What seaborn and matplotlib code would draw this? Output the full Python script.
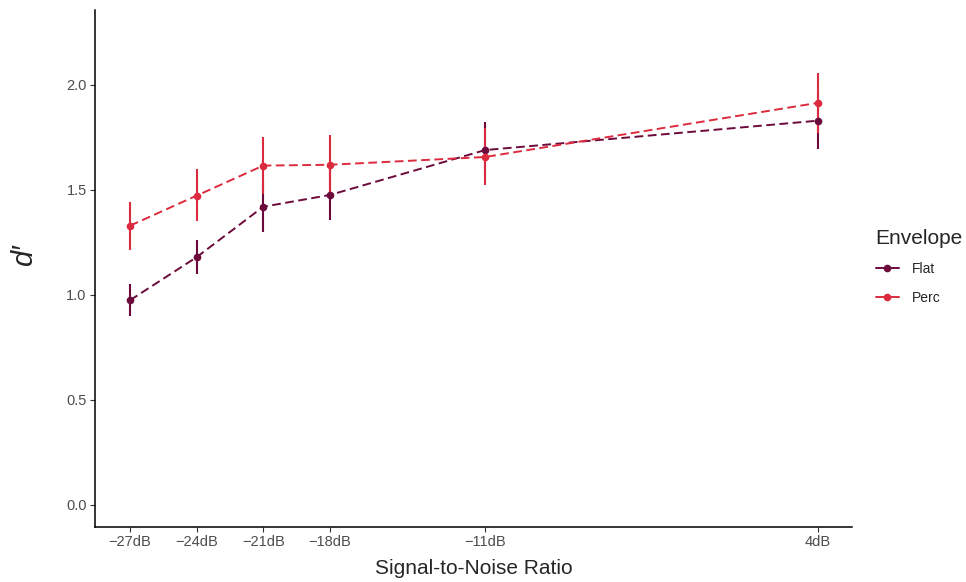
import numpy as np
import pandas as pd
import matplotlib
matplotlib.use("Agg")
import matplotlib.pyplot as plt
import seaborn as sns

snr = [-27, -24, -21, -18, -11, 4]
tick_labels = ["\u221227dB", "\u221224dB", "\u221221dB", "\u221218dB", "\u221211dB", "4dB"]
flat_mean = [0.975, 1.18, 1.42, 1.476, 1.69, 1.83]
flat_lo = [0.90, 1.10, 1.30, 1.357, 1.56, 1.695]
flat_hi = [1.05, 1.26, 1.54, 1.60, 1.826, 1.96]
perc_mean = [1.33, 1.473, 1.616, 1.62, 1.657, 1.915]
perc_lo = [1.215, 1.35, 1.483, 1.477, 1.523, 1.772]
perc_hi = [1.445, 1.598, 1.75, 1.76, 1.795, 2.055]
groups = ["Flat", "Perc"]
colors = {"Flat": "#6b0a3b", "Perc": "#dc2b3e"}

df = pd.DataFrame({
    "snr": snr * 2,
    "dprime": flat_mean + perc_mean,
    "lo": flat_lo + perc_lo,
    "hi": flat_hi + perc_hi,
    "Envelope": ["Flat"] * len(snr) + ["Perc"] * len(snr),
})

sns.set_style("white")
plt.rcParams["font.family"] = ["Liberation Sans", "DejaVu Sans"]

fig = plt.figure(figsize=(9.66, 5.82), dpi=100)
ax = fig.add_axes([95 / 966, 1 - 527 / 582, (852 - 95) / 966, (527 - 10) / 582])

for g in groups:
    sub = df[df["Envelope"] == g]
    ax.vlines(sub["snr"], sub["lo"], sub["hi"], color=colors[g], lw=1.5, zorder=2)

sns.lineplot(data=df, x="snr", y="dprime", hue="Envelope", palette=colors,
             hue_order=groups, marker="o", markersize=5.5, markeredgewidth=0,
             lw=1.4, ax=ax, legend=True, zorder=3)
for line in ax.get_lines():
    line.set_dashes([4.5, 2.3])

ax.set_xlim(-28.58, 5.53)
ax.set_ylim(-0.105, 2.357)
ax.set_xticks(snr)
ax.set_xticklabels(tick_labels)
ax.set_yticks([0.0, 0.5, 1.0, 1.5, 2.0])
ax.set_yticklabels(["0.0", "0.5", "1.0", "1.5", "2.0"])
ax.tick_params(axis="both", length=3.5, width=0.8, color="#333333",
               labelcolor="#4d4d4d", labelsize=10.5, pad=2.5, bottom=True, left=True)
for s in ["top", "right"]:
    ax.spines[s].set_visible(False)
for s in ["left", "bottom"]:
    ax.spines[s].set_color("black")
    ax.spines[s].set_linewidth(1.1)

ax.set_xlabel("Signal-to-Noise Ratio", fontsize=15, labelpad=7)
ax.set_ylabel("d\u2032", fontsize=21, style="italic")
ax.yaxis.set_label_coords(-0.075, 0.526)

handles, labels = ax.get_legend_handles_labels()
ax.get_legend().remove()
for h in handles:
    h.set_dashes([])
    h.set_linestyle("-")
leg = fig.legend(handles, labels, title="Envelope", loc="upper left",
                 bbox_to_anchor=(863 / 966, 1 - 216 / 582), frameon=False, fontsize=10,
                 title_fontsize=15, handlelength=1.7, labelspacing=1.05,
                 alignment="left", handletextpad=0.9)

fig.savefig("out.png", dpi=100)
